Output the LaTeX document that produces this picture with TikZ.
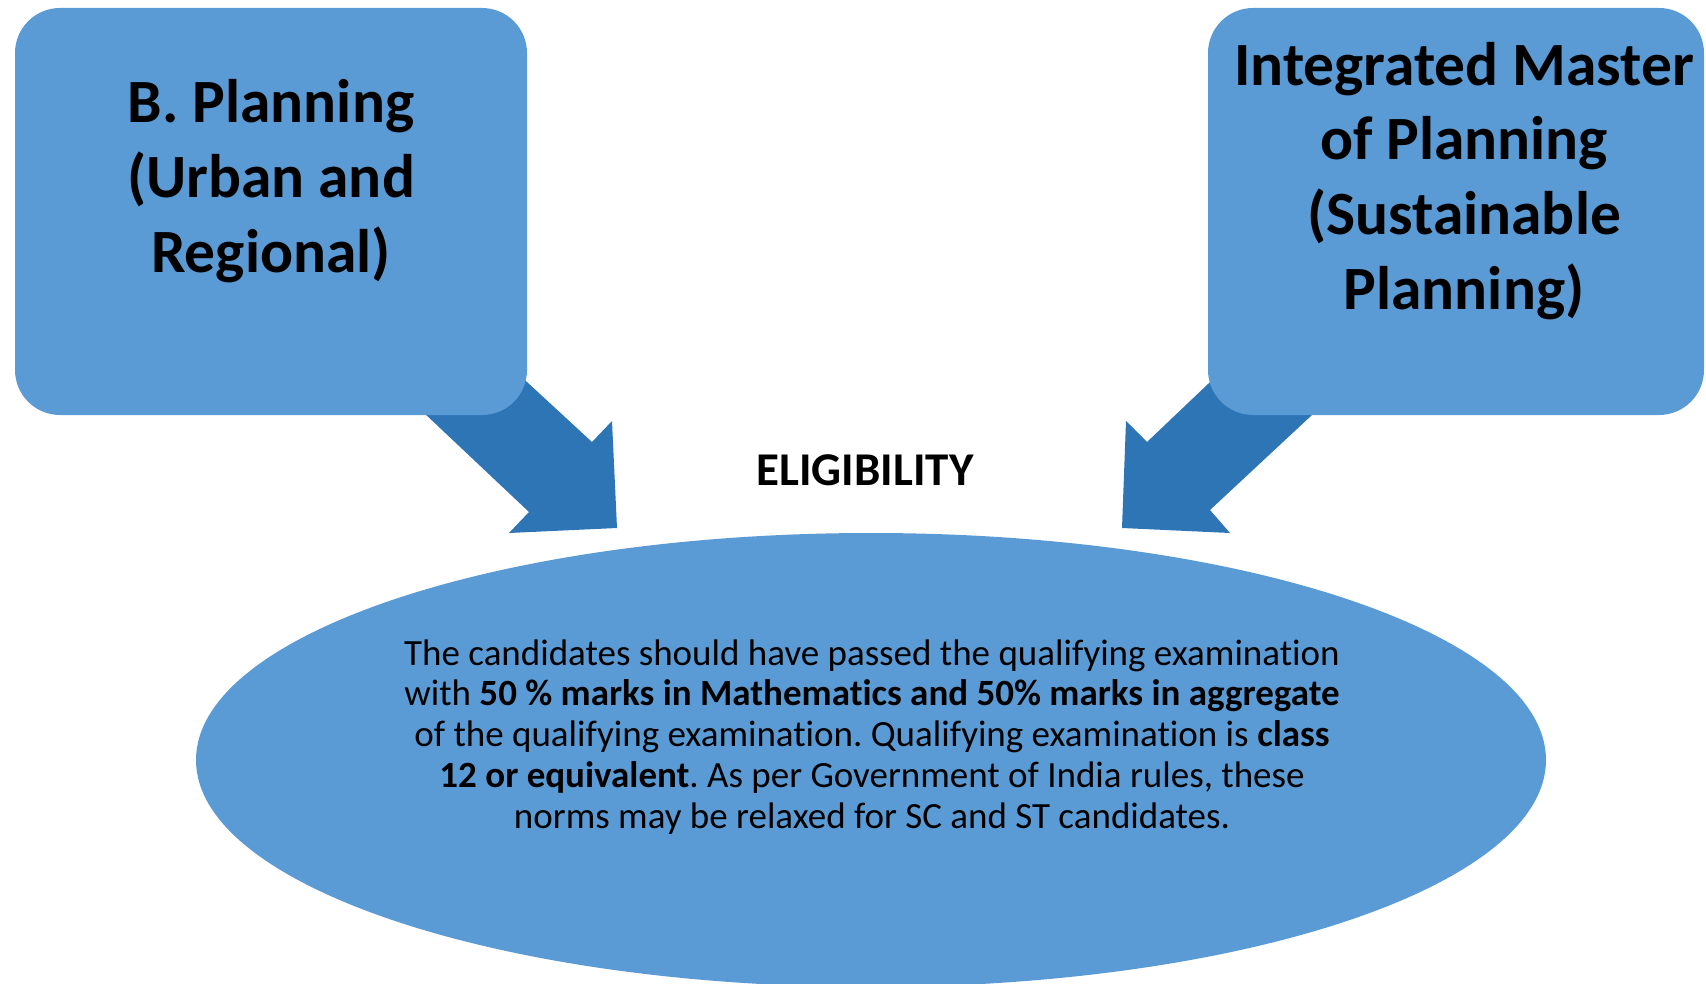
\documentclass[tikz,border=0pt]{standalone}
\usepackage{fontspec}
\setmainfont{Carlito}[Ligatures=NoCommon]
\usetikzlibrary{shapes.geometric}
\definecolor{boxblue}{RGB}{91,155,213}
\definecolor{arrowblue}{RGB}{46,117,182}
\frenchspacing
\tikzset{
  titlebox/.style={fill=boxblue, draw=none, rounded corners=45pt, inner sep=0pt},
  titletext/.style={align=center, font=\fontsize{61.5}{75}\selectfont\bfseries, inner sep=0pt, anchor=base},
  bodytext/.style={align=center, font=\fontsize{37}{40.75}\selectfont, inner sep=0pt, anchor=base},
  blockarrow/.style={fill=arrowblue, draw=none},
}
\begin{document}
\begin{tikzpicture}[x=1pt,y=-1pt]
\useasboundingbox (0,0) rectangle (1706,984);
% block arrows (behind boxes)
\fill[blockarrow] (370,362) -- (462,322) -- (592,442) -- (612,421) -- (617,528) -- (509,533) -- (529,512) -- cycle;
\fill[blockarrow] (1270,325) -- (1147,442) -- (1126,421) -- (1122,528) -- (1230,533) -- (1210,510) -- (1370,361) -- cycle;
% boxes
\node[titlebox, minimum width=512pt, minimum height=407pt] (left) at (271,211.5) {};
\node[titlebox, minimum width=496pt, minimum height=407pt] (right) at (1456,211.5) {};
\node[ellipse, fill=boxblue, draw=none, inner sep=0pt, minimum width=1350pt, minimum height=454pt] (ell) at (871,760) {};
% texts
\node[titletext] (lefttext) at (271,273) {B. Planning\\(Urban and\\Regional)};
\node[titletext] (righttext) at (1464,310) {Integrated Master\\of Planning\\(Sustainable\\Planning)};
\node[font=\fontsize{47}{52}\selectfont\bfseries, inner sep=0pt, anchor=base] (elig) at (865,485) {ELIGIBILITY};
\node[bodytext] (body) at (872,828) {The candidates should have passed the qualifying examination\\
with \textbf{50 \% marks in Mathematics and 50\% marks in aggregate}\\
of the qualifying examination. Qualifying examination is \textbf{class}\\
\textbf{12 or equivalent}. As per Government of India rules, these\\
norms may be relaxed for SC and ST candidates.};
\end{tikzpicture}
\end{document}
